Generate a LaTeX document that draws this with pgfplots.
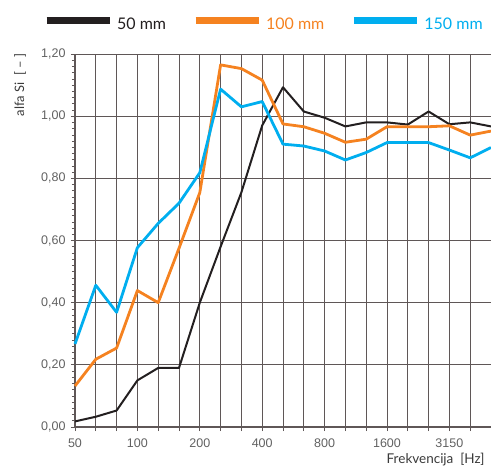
\documentclass[border=0pt]{standalone}
\usepackage{pgfplots}
\pgfplotsset{compat=1.18}
\usepackage{fontspec}
\setmainfont{Lato}
\newfontfamily\tickfont{Liberation Sans}
\definecolor{cblack}{HTML}{231F20}
\definecolor{corange}{HTML}{F58220}
\definecolor{cblue}{HTML}{00AEEF}
\definecolor{gridc}{HTML}{5F5757}
\definecolor{txt}{HTML}{3A3A3A}
\begin{document}
\begin{tikzpicture}
\path[use as bounding box] (0,0) rectangle (491pt,475pt);
\begin{axis}[
  at={(75pt,48pt)}, anchor=south west,
  scale only axis, width=416pt, height=373pt,
  xmin=0, xmax=20, ymin=0, ymax=1.2,
  xtick={0,...,20},
  xticklabels={50,,,100,,,200,,,400,,,800,,,1600,,,3150,,},
  ytick={0,0.2,0.4,0.6,0.8,1.0,1.2},
  minor y tick num=9,
  tick pos=left, tick align=outside,
  major tick length=4pt, minor tick length=3pt,
  every tick/.style={gridc, line width=0.8pt},
  minor tick style={gridc, line width=0.6pt},
  grid=major,
  major grid style={gridc, line width=0.9pt},
  axis line style={gridc, line width=1.1pt},
  axis x line*=bottom, axis y line*=left,
  /pgf/number format/assume math mode=true,
  yticklabel style={/pgf/number format/fixed, /pgf/number format/fixed zerofill, /pgf/number format/precision=2, /pgf/number format/use comma, xshift=-2pt},
  ticklabel style={font=\tickfont\fontsize{12.5}{14}\selectfont, text=txt!80},
  xticklabel style={yshift=-4pt},
  ylabel={alfa Si\ \ [ – ]},
  ylabel style={at={(axis description cs:-0.132,0.917)}, anchor=center, font=\fontsize{13}{15}\selectfont, text=txt},
  xlabel={Frekvencija\ \ [Hz]},
  xlabel style={at={(axis description cs:0.993,-0.088)}, anchor=east, font=\fontsize{13.5}{15}\selectfont, text=txt},
  clip=false,
  legend columns=3,
  legend style={draw=none, fill=none, at={(axis description cs:-0.077,1.081)}, anchor=west,
    inner sep=0pt, nodes={inner sep=0pt, anchor=west}, font=\fontsize{16}{18}\selectfont,
    /tikz/every odd column/.append style={column sep=4pt},
    /tikz/every even column/.append style={column sep=26pt}},
  legend image code/.code={\draw[line width=7pt] (0pt,0.35em) -- (63pt,0.35em);},
]
\addplot[gridc, line width=0.9pt, forget plot] coordinates {(0,1.2) (20,1.2)};
\addplot[cblack, line width=2pt, line join=round] coordinates {
(0,0.018) (1,0.033) (2,0.053) (3,0.15) (4,0.19) (5,0.19) (6,0.40) (7,0.58) (8,0.755)
(9,0.97) (10,1.093) (11,1.015) (12,0.995) (13,0.967) (14,0.98) (15,0.98) (16,0.973)
(17,1.015) (18,0.974) (19,0.98) (20,0.967)};
\addlegendentry{\textcolor{cblack}{50 mm}}
\addplot[corange, line width=2.8pt, line join=round] coordinates {
(0,0.132) (1,0.218) (2,0.254) (3,0.439) (4,0.40) (5,0.575) (6,0.754) (7,1.165) (8,1.153)
(9,1.116) (10,0.975) (11,0.966) (12,0.945) (13,0.916) (14,0.926) (15,0.966) (16,0.966)
(17,0.966) (18,0.969) (19,0.939) (20,0.952)};
\addlegendentry{\textcolor{corange}{100 mm}}
\addplot[cblue, line width=2.8pt, line join=round] coordinates {
(0,0.267) (1,0.456) (2,0.369) (3,0.577) (4,0.655) (5,0.72) (6,0.818) (7,1.087) (8,1.03)
(9,1.047) (10,0.91) (11,0.904) (12,0.888) (13,0.859) (14,0.883) (15,0.915) (16,0.915)
(17,0.915) (18,0.891) (19,0.866) (20,0.899)};
\addlegendentry{\textcolor{cblue}{150 mm}}
\end{axis}
\end{tikzpicture}
\end{document}
